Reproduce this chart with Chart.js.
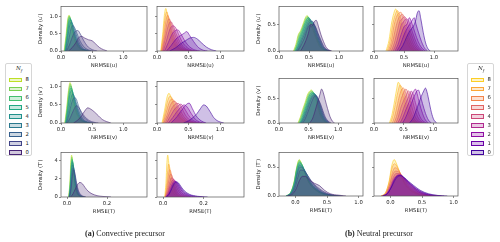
<!DOCTYPE html>
<html><head><meta charset="utf-8">
<script src="https://cdn.jsdelivr.net/npm/chart.js@4/dist/chart.umd.min.js"></script>
<style>
html,body{margin:0;padding:0;background:#fff;}
body{width:500px;height:242px;overflow:hidden;position:relative;font-family:"DejaVu Sans",sans-serif;}
.pn{position:absolute;}
.pn canvas{display:block;}
.lg{position:absolute;border:0.8px solid #d6d6d6;border-radius:2px;background:#fff;box-sizing:border-box;}
.lgt{position:absolute;font-family:"DejaVu Serif",serif;font-style:italic;font-size:5.5px;color:#222;}
.sw{position:absolute;box-sizing:border-box;}
.lbl{position:absolute;font-size:5.3px;color:#222;line-height:1;}
.cap{position:absolute;font-family:"Liberation Serif",serif;font-size:8px;color:#222;white-space:nowrap;transform:translate(-50%,-50%);}
</style>
</head><body>
<script>
// ---------------- data ----------------
const NF = [8,7,6,5,4,3,2,1,0];
// palettes indexed by N_f (0..8)
const VIRIDIS = ['#482475','#414487','#355f8d','#2a788e','#21918c','#22a884','#44bf70','#7ad151','#bddf26'];
const PLASMA  = ['#41049d','#6a00a8','#8f0da4','#b12a90','#cc4778','#e16462','#f2844b','#fca636','#fcce25'];

const X_TICKS_UV = [0, 0.5, 1.0];   const X_LABELS_UV = ['0.0','0.5','1.0'];
const X_TICKS_CT = [0, 0.2];        const X_LABELS_CT = ['0.0','0.2'];
const X_TICKS_NT = [0, 0.5, 1.0];   const X_LABELS_NT = ['0.0','0.5','1.0'];
const Y_TICKS_CUV = [0, 0.5, 1.0];  const Y_LABELS_CUV = ['0.0','0.5','1.0'];
const Y_TICKS_CT = [0, 2, 4];       const Y_LABELS_CT = ['0','2','4'];
const Y_TICKS_N = [0, 0.5];         const Y_LABELS_N = ['0.0','0.5'];

// series order: N_f = 8,7,6,5,4,3,2,1,0 ; points [x, density]
const convU_vir = [
 [[0.05,0],[0.08,0.45],[0.11,0.95],[0.13,1.05],[0.15,0.9],[0.18,0.6],[0.22,0.3],[0.28,0.1],[0.36,0.02],[0.42,0]],
 [[0.055,0],[0.085,0.45],[0.115,0.95],[0.135,1.03],[0.155,0.9],[0.185,0.62],[0.23,0.3],[0.29,0.1],[0.37,0.02],[0.43,0]],
 [[0.06,0],[0.09,0.45],[0.12,0.92],[0.14,1.0],[0.16,0.9],[0.19,0.63],[0.24,0.3],[0.3,0.1],[0.38,0.02],[0.44,0]],
 [[0.065,0],[0.095,0.42],[0.125,0.88],[0.145,0.96],[0.165,0.88],[0.2,0.6],[0.25,0.3],[0.31,0.1],[0.39,0.02],[0.45,0]],
 [[0.07,0],[0.1,0.4],[0.13,0.82],[0.155,0.92],[0.18,0.82],[0.21,0.58],[0.26,0.3],[0.32,0.1],[0.4,0.02],[0.46,0]],
 [[0.075,0],[0.105,0.35],[0.14,0.75],[0.165,0.85],[0.19,0.78],[0.23,0.55],[0.28,0.3],[0.34,0.1],[0.42,0.02],[0.48,0]],
 [[0.08,0],[0.12,0.3],[0.16,0.65],[0.19,0.75],[0.22,0.68],[0.26,0.5],[0.31,0.28],[0.38,0.1],[0.46,0.02],[0.52,0]],
 [[0.09,0],[0.14,0.2],[0.19,0.45],[0.23,0.58],[0.27,0.6],[0.31,0.5],[0.36,0.32],[0.42,0.15],[0.5,0.04],[0.58,0]],
 [[0.12,0],[0.18,0.1],[0.24,0.25],[0.29,0.4],[0.33,0.43],[0.38,0.38],[0.44,0.33],[0.5,0.3],[0.56,0.2],[0.62,0.1],[0.68,0.04],[0.74,0]]
];
const convU_pla = [
 [[0.06,0],[0.09,0.5],[0.12,1.1],[0.14,1.25],[0.16,1.1],[0.2,0.65],[0.25,0.3],[0.32,0.1],[0.4,0.02],[0.46,0]],
 [[0.065,0],[0.1,0.5],[0.13,1.0],[0.155,1.15],[0.18,1.0],[0.22,0.62],[0.27,0.3],[0.34,0.1],[0.42,0.02],[0.48,0]],
 [[0.07,0],[0.11,0.45],[0.145,0.92],[0.17,1.05],[0.2,0.9],[0.24,0.58],[0.3,0.28],[0.37,0.1],[0.45,0.02],[0.52,0]],
 [[0.08,0],[0.12,0.4],[0.16,0.82],[0.19,0.95],[0.22,0.85],[0.27,0.55],[0.33,0.28],[0.4,0.1],[0.48,0.02],[0.55,0]],
 [[0.09,0],[0.13,0.35],[0.18,0.75],[0.22,0.86],[0.25,0.78],[0.3,0.52],[0.36,0.28],[0.43,0.1],[0.52,0.02],[0.6,0]],
 [[0.1,0],[0.15,0.3],[0.2,0.62],[0.25,0.74],[0.29,0.7],[0.34,0.5],[0.4,0.27],[0.48,0.1],[0.56,0.02],[0.64,0]],
 [[0.12,0],[0.18,0.25],[0.24,0.5],[0.29,0.6],[0.33,0.62],[0.38,0.5],[0.44,0.3],[0.52,0.12],[0.6,0.03],[0.68,0]],
 [[0.15,0],[0.22,0.15],[0.3,0.35],[0.37,0.45],[0.43,0.52],[0.47,0.57],[0.52,0.45],[0.58,0.28],[0.66,0.1],[0.74,0.02],[0.8,0]],
 [[0.2,0],[0.3,0.1],[0.38,0.22],[0.45,0.3],[0.52,0.38],[0.58,0.4],[0.64,0.35],[0.7,0.25],[0.78,0.12],[0.86,0.04],[0.94,0]]
];
const convV_vir = [
 [[0.06,0],[0.09,0.4],[0.12,0.9],[0.145,1.12],[0.17,0.95],[0.2,0.6],[0.24,0.3],[0.3,0.1],[0.38,0.02],[0.44,0]],
 [[0.065,0],[0.095,0.4],[0.125,0.9],[0.15,1.08],[0.175,0.93],[0.205,0.6],[0.25,0.3],[0.31,0.1],[0.39,0.02],[0.45,0]],
 [[0.07,0],[0.1,0.4],[0.13,0.85],[0.155,1.03],[0.18,0.92],[0.21,0.6],[0.26,0.3],[0.32,0.1],[0.4,0.02],[0.46,0]],
 [[0.075,0],[0.105,0.38],[0.135,0.8],[0.16,0.97],[0.185,0.88],[0.22,0.6],[0.27,0.3],[0.33,0.1],[0.41,0.02],[0.47,0]],
 [[0.08,0],[0.11,0.35],[0.14,0.75],[0.17,0.9],[0.195,0.82],[0.23,0.58],[0.28,0.3],[0.34,0.1],[0.42,0.02],[0.48,0]],
 [[0.085,0],[0.12,0.3],[0.155,0.65],[0.185,0.8],[0.21,0.75],[0.25,0.52],[0.3,0.28],[0.36,0.1],[0.44,0.02],[0.5,0]],
 [[0.09,0],[0.13,0.25],[0.17,0.55],[0.21,0.7],[0.24,0.68],[0.28,0.48],[0.33,0.26],[0.4,0.1],[0.48,0.02],[0.55,0]],
 [[0.1,0],[0.15,0.15],[0.2,0.35],[0.25,0.48],[0.29,0.42],[0.33,0.3],[0.38,0.18],[0.45,0.07],[0.53,0.02],[0.6,0]],
 [[0.2,0],[0.27,0.08],[0.33,0.2],[0.38,0.33],[0.43,0.42],[0.48,0.38],[0.54,0.3],[0.6,0.2],[0.66,0.1],[0.73,0.04],[0.8,0]]
];
const convV_pla = [
 [[0.08,0],[0.12,0.35],[0.16,0.72],[0.19,0.82],[0.22,0.72],[0.27,0.45],[0.33,0.22],[0.4,0.08],[0.48,0.02],[0.55,0]],
 [[0.09,0],[0.13,0.3],[0.17,0.62],[0.21,0.74],[0.24,0.68],[0.29,0.45],[0.35,0.22],[0.42,0.08],[0.5,0.02],[0.57,0]],
 [[0.1,0],[0.14,0.25],[0.19,0.55],[0.23,0.66],[0.27,0.62],[0.32,0.44],[0.38,0.22],[0.45,0.08],[0.53,0.02],[0.6,0]],
 [[0.11,0],[0.16,0.22],[0.21,0.48],[0.26,0.6],[0.3,0.58],[0.35,0.42],[0.41,0.22],[0.48,0.08],[0.56,0.02],[0.63,0]],
 [[0.13,0],[0.18,0.2],[0.24,0.42],[0.29,0.52],[0.34,0.54],[0.39,0.42],[0.45,0.22],[0.52,0.08],[0.6,0.02],[0.67,0]],
 [[0.15,0],[0.21,0.18],[0.27,0.36],[0.33,0.47],[0.38,0.52],[0.43,0.42],[0.49,0.24],[0.56,0.09],[0.64,0.02],[0.71,0]],
 [[0.18,0],[0.25,0.15],[0.31,0.3],[0.37,0.42],[0.43,0.5],[0.48,0.44],[0.54,0.27],[0.61,0.1],[0.69,0.02],[0.76,0]],
 [[0.22,0],[0.29,0.12],[0.35,0.25],[0.41,0.4],[0.47,0.52],[0.51,0.55],[0.56,0.4],[0.62,0.2],[0.7,0.06],[0.78,0]],
 [[0.42,0],[0.5,0.06],[0.57,0.15],[0.63,0.25],[0.69,0.4],[0.74,0.5],[0.78,0.47],[0.84,0.32],[0.9,0.15],[0.97,0.05],[1.06,0]]
];
const convT_vir = [
 [[0.008,0],[0.014,1.5],[0.019,3.8],[0.023,4.6],[0.027,4.0],[0.033,2.5],[0.04,1.2],[0.05,0.4],[0.062,0.1],[0.075,0]],
 [[0.009,0],[0.015,1.4],[0.02,3.6],[0.024,4.4],[0.028,3.9],[0.034,2.5],[0.041,1.2],[0.051,0.4],[0.063,0.1],[0.076,0]],
 [[0.01,0],[0.016,1.3],[0.021,3.4],[0.025,4.2],[0.029,3.8],[0.035,2.5],[0.042,1.2],[0.052,0.4],[0.064,0.1],[0.078,0]],
 [[0.01,0],[0.016,1.2],[0.021,3.1],[0.026,4.0],[0.03,3.7],[0.036,2.5],[0.043,1.3],[0.053,0.45],[0.066,0.1],[0.08,0]],
 [[0.011,0],[0.017,1.1],[0.022,2.9],[0.027,3.8],[0.031,3.6],[0.037,2.5],[0.044,1.3],[0.054,0.45],[0.067,0.1],[0.082,0]],
 [[0.012,0],[0.018,1.0],[0.023,2.6],[0.028,3.5],[0.032,3.4],[0.038,2.5],[0.045,1.35],[0.056,0.5],[0.07,0.12],[0.086,0]],
 [[0.012,0],[0.019,0.9],[0.025,2.4],[0.03,3.2],[0.034,3.1],[0.04,2.4],[0.048,1.3],[0.058,0.5],[0.072,0.12],[0.09,0]],
 [[0.013,0],[0.02,0.8],[0.026,2.1],[0.032,2.95],[0.036,2.9],[0.042,2.3],[0.05,1.3],[0.06,0.55],[0.075,0.15],[0.095,0]],
 [[0.018,0],[0.03,0.35],[0.042,0.9],[0.055,1.45],[0.065,1.6],[0.077,1.45],[0.09,1.05],[0.105,0.65],[0.125,0.35],[0.15,0.15],[0.18,0.06],[0.22,0]]
];
const convT_pla = [
 [[0.008,0],[0.014,1.5],[0.019,3.8],[0.023,4.6],[0.027,4.0],[0.033,2.5],[0.04,1.3],[0.05,0.5],[0.065,0.12],[0.08,0]],
 [[0.01,0],[0.017,1.2],[0.023,2.9],[0.028,3.6],[0.033,3.2],[0.04,2.2],[0.048,1.2],[0.06,0.45],[0.075,0.12],[0.09,0]],
 [[0.011,0],[0.019,1.0],[0.026,2.3],[0.032,3.0],[0.038,2.8],[0.045,2.0],[0.054,1.15],[0.066,0.45],[0.082,0.12],[0.1,0]],
 [[0.012,0],[0.021,0.8],[0.029,1.9],[0.036,2.5],[0.043,2.4],[0.05,1.9],[0.06,1.1],[0.072,0.5],[0.09,0.14],[0.11,0]],
 [[0.013,0],[0.023,0.6],[0.032,1.5],[0.041,2.1],[0.049,2.05],[0.057,1.7],[0.067,1.1],[0.08,0.55],[0.1,0.16],[0.125,0]],
 [[0.014,0],[0.025,0.5],[0.035,1.25],[0.045,1.8],[0.054,1.9],[0.063,1.6],[0.074,1.1],[0.088,0.55],[0.11,0.18],[0.14,0]],
 [[0.015,0],[0.027,0.4],[0.038,1.05],[0.049,1.6],[0.058,1.75],[0.068,1.55],[0.08,1.1],[0.095,0.6],[0.12,0.2],[0.16,0]],
 [[0.016,0],[0.029,0.35],[0.041,0.95],[0.052,1.5],[0.062,1.7],[0.072,1.55],[0.085,1.1],[0.1,0.65],[0.125,0.25],[0.17,0.05],[0.2,0]],
 [[0.017,0],[0.03,0.3],[0.043,0.9],[0.055,1.45],[0.066,1.65],[0.076,1.55],[0.09,1.1],[0.105,0.68],[0.13,0.3],[0.17,0.08],[0.22,0]]
];
const neutU_vir = [
 [[0.24,0],[0.28,0.12],[0.32,0.3],[0.36,0.38],[0.4,0.5],[0.44,0.62],[0.47,0.66],[0.5,0.55],[0.54,0.5],[0.58,0.35],[0.63,0.2],[0.68,0.08],[0.74,0.02],[0.8,0]],
 [[0.25,0],[0.29,0.12],[0.33,0.3],[0.37,0.38],[0.41,0.5],[0.45,0.62],[0.48,0.64],[0.51,0.55],[0.55,0.5],[0.59,0.35],[0.64,0.2],[0.69,0.08],[0.75,0.02],[0.81,0]],
 [[0.26,0],[0.3,0.12],[0.34,0.28],[0.38,0.38],[0.42,0.5],[0.46,0.6],[0.49,0.63],[0.52,0.55],[0.56,0.5],[0.6,0.35],[0.65,0.2],[0.7,0.08],[0.76,0.02],[0.82,0]],
 [[0.27,0],[0.31,0.12],[0.35,0.27],[0.39,0.37],[0.43,0.5],[0.47,0.6],[0.5,0.62],[0.53,0.55],[0.57,0.5],[0.61,0.35],[0.66,0.2],[0.71,0.08],[0.77,0.02],[0.83,0]],
 [[0.28,0],[0.32,0.1],[0.36,0.25],[0.4,0.36],[0.44,0.48],[0.48,0.58],[0.51,0.6],[0.54,0.55],[0.58,0.48],[0.62,0.35],[0.67,0.2],[0.72,0.08],[0.78,0.02],[0.84,0]],
 [[0.29,0],[0.33,0.1],[0.37,0.22],[0.41,0.33],[0.45,0.45],[0.49,0.55],[0.52,0.58],[0.55,0.55],[0.59,0.48],[0.63,0.35],[0.68,0.2],[0.73,0.08],[0.79,0.02],[0.85,0]],
 [[0.3,0],[0.34,0.08],[0.38,0.2],[0.42,0.3],[0.46,0.42],[0.5,0.52],[0.53,0.55],[0.56,0.55],[0.6,0.46],[0.64,0.35],[0.69,0.2],[0.74,0.08],[0.8,0.02],[0.86,0]],
 [[0.31,0],[0.35,0.07],[0.39,0.16],[0.43,0.26],[0.47,0.4],[0.51,0.48],[0.54,0.45],[0.57,0.5],[0.61,0.45],[0.65,0.33],[0.7,0.2],[0.75,0.08],[0.81,0.02],[0.87,0]],
 [[0.36,0],[0.41,0.1],[0.45,0.2],[0.49,0.33],[0.53,0.5],[0.56,0.48],[0.59,0.55],[0.62,0.57],[0.66,0.45],[0.7,0.3],[0.74,0.18],[0.78,0.08],[0.83,0.02],[0.88,0]]
];
const neutU_pla = [
 [[0.2,0],[0.25,0.2],[0.29,0.5],[0.33,0.7],[0.36,0.78],[0.39,0.72],[0.43,0.55],[0.47,0.4],[0.52,0.25],[0.57,0.12],[0.62,0.04],[0.67,0]],
 [[0.22,0],[0.27,0.2],[0.31,0.48],[0.35,0.66],[0.39,0.75],[0.42,0.7],[0.46,0.55],[0.5,0.4],[0.55,0.25],[0.6,0.12],[0.65,0.04],[0.7,0]],
 [[0.24,0],[0.29,0.18],[0.33,0.45],[0.37,0.62],[0.41,0.7],[0.45,0.72],[0.49,0.55],[0.53,0.4],[0.58,0.25],[0.63,0.12],[0.68,0.04],[0.73,0]],
 [[0.26,0],[0.31,0.16],[0.36,0.42],[0.4,0.58],[0.44,0.66],[0.48,0.68],[0.52,0.55],[0.56,0.42],[0.61,0.26],[0.66,0.12],[0.71,0.04],[0.76,0]],
 [[0.29,0],[0.34,0.15],[0.39,0.38],[0.43,0.55],[0.47,0.6],[0.51,0.64],[0.55,0.55],[0.59,0.42],[0.64,0.26],[0.69,0.12],[0.74,0.04],[0.79,0]],
 [[0.32,0],[0.37,0.14],[0.42,0.35],[0.46,0.5],[0.5,0.55],[0.54,0.6],[0.58,0.55],[0.62,0.42],[0.67,0.26],[0.72,0.12],[0.77,0.04],[0.82,0]],
 [[0.35,0],[0.4,0.12],[0.45,0.3],[0.5,0.45],[0.55,0.5],[0.59,0.62],[0.62,0.55],[0.66,0.42],[0.71,0.25],[0.76,0.12],[0.81,0.04],[0.86,0]],
 [[0.38,0],[0.44,0.12],[0.5,0.3],[0.55,0.42],[0.6,0.5],[0.64,0.58],[0.67,0.62],[0.7,0.5],[0.74,0.35],[0.79,0.18],[0.84,0.06],[0.89,0]],
 [[0.42,0],[0.48,0.1],[0.54,0.25],[0.6,0.38],[0.65,0.45],[0.69,0.55],[0.72,0.7],[0.75,0.75],[0.78,0.6],[0.82,0.35],[0.86,0.15],[0.9,0.04],[0.94,0]]
];
const neutV_vir = [
 [[0.32,0],[0.36,0.12],[0.4,0.28],[0.44,0.42],[0.48,0.58],[0.52,0.66],[0.55,0.68],[0.58,0.6],[0.62,0.48],[0.66,0.3],[0.7,0.15],[0.75,0.05],[0.8,0]],
 [[0.33,0],[0.37,0.12],[0.41,0.28],[0.45,0.42],[0.49,0.57],[0.53,0.65],[0.56,0.66],[0.59,0.6],[0.63,0.48],[0.67,0.3],[0.71,0.15],[0.76,0.05],[0.81,0]],
 [[0.34,0],[0.38,0.12],[0.42,0.27],[0.46,0.42],[0.5,0.56],[0.54,0.63],[0.57,0.64],[0.6,0.6],[0.64,0.48],[0.68,0.3],[0.72,0.15],[0.77,0.05],[0.82,0]],
 [[0.35,0],[0.39,0.11],[0.43,0.26],[0.47,0.4],[0.51,0.55],[0.55,0.62],[0.58,0.62],[0.61,0.58],[0.65,0.47],[0.69,0.3],[0.73,0.15],[0.78,0.05],[0.83,0]],
 [[0.36,0],[0.4,0.1],[0.44,0.25],[0.48,0.39],[0.52,0.53],[0.56,0.6],[0.59,0.61],[0.62,0.57],[0.66,0.46],[0.7,0.3],[0.74,0.15],[0.79,0.05],[0.84,0]],
 [[0.37,0],[0.41,0.1],[0.45,0.23],[0.49,0.37],[0.53,0.5],[0.57,0.58],[0.6,0.6],[0.63,0.56],[0.67,0.45],[0.71,0.3],[0.75,0.15],[0.8,0.05],[0.85,0]],
 [[0.38,0],[0.42,0.09],[0.46,0.21],[0.5,0.35],[0.54,0.48],[0.58,0.56],[0.61,0.58],[0.64,0.55],[0.68,0.44],[0.72,0.3],[0.76,0.15],[0.81,0.05],[0.86,0]],
 [[0.4,0],[0.44,0.08],[0.48,0.2],[0.52,0.33],[0.56,0.46],[0.6,0.55],[0.63,0.56],[0.66,0.5],[0.7,0.4],[0.74,0.26],[0.78,0.13],[0.83,0.04],[0.88,0]],
 [[0.52,0],[0.57,0.1],[0.61,0.25],[0.65,0.42],[0.69,0.58],[0.72,0.7],[0.75,0.62],[0.78,0.48],[0.82,0.3],[0.86,0.14],[0.9,0.04],[0.94,0]]
];
const neutV_pla = [
 [[0.26,0],[0.3,0.15],[0.34,0.4],[0.38,0.68],[0.41,0.84],[0.44,0.78],[0.48,0.6],[0.52,0.42],[0.56,0.25],[0.61,0.1],[0.66,0.03],[0.71,0]],
 [[0.28,0],[0.32,0.15],[0.36,0.38],[0.4,0.62],[0.44,0.78],[0.47,0.74],[0.51,0.6],[0.55,0.42],[0.59,0.25],[0.64,0.1],[0.69,0.03],[0.74,0]],
 [[0.31,0],[0.35,0.14],[0.39,0.35],[0.43,0.56],[0.47,0.7],[0.5,0.72],[0.54,0.6],[0.58,0.42],[0.62,0.25],[0.67,0.1],[0.72,0.03],[0.77,0]],
 [[0.34,0],[0.38,0.13],[0.42,0.32],[0.46,0.5],[0.5,0.62],[0.54,0.7],[0.58,0.6],[0.62,0.42],[0.66,0.25],[0.71,0.1],[0.76,0.03],[0.81,0]],
 [[0.37,0],[0.41,0.12],[0.45,0.3],[0.5,0.46],[0.54,0.56],[0.58,0.66],[0.62,0.6],[0.66,0.42],[0.7,0.25],[0.75,0.1],[0.8,0.03],[0.85,0]],
 [[0.4,0],[0.45,0.12],[0.5,0.3],[0.55,0.45],[0.59,0.55],[0.63,0.66],[0.66,0.6],[0.7,0.42],[0.74,0.25],[0.79,0.1],[0.84,0.03],[0.89,0]],
 [[0.44,0],[0.49,0.12],[0.54,0.28],[0.59,0.42],[0.63,0.55],[0.67,0.65],[0.7,0.7],[0.73,0.6],[0.77,0.4],[0.82,0.2],[0.87,0.06],[0.92,0]],
 [[0.48,0],[0.53,0.1],[0.58,0.25],[0.63,0.4],[0.68,0.55],[0.72,0.65],[0.75,0.68],[0.78,0.58],[0.82,0.4],[0.87,0.2],[0.92,0.06],[0.97,0]],
 [[0.6,0],[0.66,0.1],[0.71,0.25],[0.76,0.42],[0.8,0.55],[0.84,0.66],[0.87,0.72],[0.9,0.62],[0.93,0.45],[0.97,0.22],[1.01,0.07],[1.06,0]]
];
const neutT_vir = [
 [[-0.15,0],[-0.08,0.05],[-0.02,0.25],[0.02,0.5],[0.06,0.63],[0.1,0.55],[0.15,0.4],[0.22,0.22],[0.3,0.12],[0.4,0.05],[0.5,0.02],[0.62,0]],
 [[-0.15,0],[-0.08,0.05],[-0.02,0.24],[0.02,0.48],[0.06,0.62],[0.1,0.55],[0.15,0.4],[0.22,0.22],[0.3,0.12],[0.4,0.05],[0.5,0.02],[0.62,0]],
 [[-0.15,0],[-0.08,0.05],[-0.02,0.23],[0.02,0.47],[0.065,0.6],[0.1,0.55],[0.15,0.41],[0.22,0.23],[0.3,0.13],[0.4,0.05],[0.5,0.02],[0.64,0]],
 [[-0.15,0],[-0.08,0.05],[-0.02,0.22],[0.02,0.45],[0.065,0.58],[0.11,0.53],[0.16,0.4],[0.23,0.23],[0.31,0.13],[0.41,0.06],[0.52,0.02],[0.66,0]],
 [[-0.14,0],[-0.07,0.05],[-0.01,0.22],[0.03,0.44],[0.07,0.56],[0.11,0.52],[0.16,0.4],[0.23,0.24],[0.31,0.14],[0.41,0.06],[0.52,0.02],[0.68,0]],
 [[-0.14,0],[-0.07,0.05],[-0.01,0.2],[0.03,0.42],[0.07,0.53],[0.11,0.5],[0.17,0.4],[0.24,0.24],[0.32,0.14],[0.42,0.06],[0.54,0.02],[0.7,0]],
 [[-0.14,0],[-0.07,0.04],[-0.01,0.18],[0.03,0.38],[0.075,0.5],[0.12,0.48],[0.18,0.38],[0.25,0.25],[0.33,0.15],[0.43,0.07],[0.55,0.02],[0.72,0]],
 [[-0.13,0],[-0.06,0.04],[0,0.16],[0.04,0.33],[0.08,0.45],[0.13,0.44],[0.19,0.36],[0.26,0.25],[0.34,0.16],[0.44,0.08],[0.56,0.02],[0.75,0]],
 [[-0.12,0],[-0.05,0.03],[0.01,0.12],[0.06,0.26],[0.11,0.34],[0.16,0.34],[0.22,0.28],[0.3,0.22],[0.38,0.18],[0.46,0.1],[0.55,0.04],[0.68,0.015],[0.8,0]]
];
const neutT_pla = [
 [[-0.15,0],[-0.08,0.05],[-0.02,0.26],[0.02,0.52],[0.06,0.63],[0.1,0.55],[0.15,0.4],[0.22,0.22],[0.3,0.11],[0.4,0.04],[0.5,0.01],[0.62,0]],
 [[-0.15,0],[-0.08,0.05],[-0.02,0.24],[0.02,0.46],[0.065,0.56],[0.11,0.5],[0.16,0.38],[0.23,0.22],[0.31,0.12],[0.41,0.05],[0.52,0.01],[0.64,0]],
 [[-0.14,0],[-0.07,0.05],[-0.01,0.22],[0.03,0.4],[0.07,0.49],[0.12,0.46],[0.17,0.37],[0.24,0.23],[0.32,0.13],[0.42,0.05],[0.54,0.015],[0.68,0]],
 [[-0.14,0],[-0.07,0.04],[-0.01,0.2],[0.03,0.35],[0.08,0.43],[0.13,0.42],[0.18,0.35],[0.25,0.24],[0.33,0.14],[0.43,0.06],[0.55,0.02],[0.7,0]],
 [[-0.13,0],[-0.06,0.04],[0,0.18],[0.04,0.31],[0.09,0.39],[0.14,0.39],[0.19,0.34],[0.26,0.24],[0.34,0.15],[0.44,0.07],[0.56,0.02],[0.72,0]],
 [[-0.13,0],[-0.06,0.04],[0,0.16],[0.05,0.29],[0.1,0.36],[0.15,0.37],[0.2,0.33],[0.27,0.24],[0.35,0.16],[0.45,0.07],[0.58,0.02],[0.76,0]],
 [[-0.12,0],[-0.05,0.04],[0.01,0.15],[0.06,0.28],[0.11,0.35],[0.16,0.36],[0.21,0.32],[0.28,0.24],[0.36,0.16],[0.46,0.08],[0.6,0.02],[0.8,0]],
 [[-0.12,0],[-0.05,0.04],[0.01,0.15],[0.06,0.28],[0.11,0.35],[0.16,0.36],[0.21,0.32],[0.28,0.25],[0.36,0.17],[0.46,0.09],[0.6,0.03],[0.85,0]],
 [[-0.12,0],[-0.05,0.04],[0.01,0.14],[0.07,0.27],[0.12,0.34],[0.17,0.35],[0.22,0.32],[0.29,0.25],[0.37,0.18],[0.47,0.1],[0.6,0.04],[0.75,0.01],[0.9,0]]
];

// ---------------- rendering ----------------
const FONT = 'DejaVu Sans';
const FS = 5.3;
function rgba(hex, a){const n=parseInt(hex.slice(1),16);return 'rgba('+(n>>16)+','+((n>>8)&255)+','+(n&255)+','+a+')';}
const framePlugin = {id:'frame', afterDatasetsDraw(c){const a=c.chartArea,ctx=c.ctx;ctx.save();ctx.strokeStyle='#555';ctx.lineWidth=0.7;ctx.strokeRect(a.left,a.top,a.right-a.left,a.bottom-a.top);ctx.restore();}};

function panel(rect, series, pal, xlim, ylim, xt, xtl, yt, ytl, xTitle, yTitle){
  const showY = !!yTitle;
  const L = showY ? 24 : 9, T = 3, R = 4, B = 18;
  const W = L + rect[2] + R, H = T + rect[3] + B;
  const div = document.createElement('div'); div.className = 'pn';
  div.style.left = (rect[0]-L)+'px'; div.style.top = (rect[1]-T)+'px';
  div.style.width = W+'px'; div.style.height = H+'px';
  const cv = document.createElement('canvas'); cv.width = W; cv.height = H;
  cv.style.width = W+'px'; cv.style.height = H+'px';
  div.appendChild(cv); document.body.appendChild(div);
  const tickFont = {family:FONT, size:FS};
  new Chart(cv, {
    type:'line',
    data:{datasets: series.map((pts,i)=>({
      label:String(NF[i]),
      data: pts.map(p=>({x:p[0], y:p[1]})),
      order: NF[i],
      borderColor: pal[NF[i]],
      backgroundColor: rgba(pal[NF[i]], 0.25),
      fill:'origin', borderWidth:0.6, pointRadius:0,
      cubicInterpolationMode:'monotone'
    }))},
    options:{
      responsive:false, animation:false, devicePixelRatio:1,
      layout:{padding:{left:0, top:T, right:R, bottom:0}},
      plugins:{legend:{display:false}, tooltip:{enabled:false}},
      scales:{
        x:{type:'linear', min:xlim[0], max:xlim[1],
           afterBuildTicks:s=>{s.ticks = xt.map(v=>({value:v}));},
           afterFit:s=>{s.height = B;},
           ticks:{callback:(v,i)=>xtl[i], font:tickFont, color:'#222', padding:1.2, maxRotation:0, autoSkip:false},
           grid:{drawOnChartArea:false, drawTicks:true, tickLength:2, color:'#444', lineWidth:0.6},
           border:{display:false},
           title:{display:true, text:xTitle, font:tickFont, color:'#222', padding:0}},
        y:{type:'linear', min:ylim[0], max:ylim[1],
           afterBuildTicks:s=>{s.ticks = yt.map(v=>({value:v}));},
           afterFit:s=>{s.width = L;},
           ticks:{callback:(v,i)=>showY ? ytl[i] : '', font:tickFont, color:'#222', padding:1.2, autoSkip:false},
           grid:{drawOnChartArea:false, drawTicks:true, tickLength:2, color:'#444', lineWidth:0.6},
           border:{display:false},
           title:{display:showY, text:yTitle||'', font:tickFont, color:'#222', padding:0}}
      }
    },
    plugins:[framePlugin]
  });
}

// Convective precursor
panel([61,5,86,46],  convU_vir, VIRIDIS, [0,1.38], [0,1.31], X_TICKS_UV, X_LABELS_UV, Y_TICKS_CUV, Y_LABELS_CUV, 'NRMSE(u)', 'Density (u′)');
panel([157,5,87,46], convU_pla, PLASMA,  [0,1.38], [0,1.31], X_TICKS_UV, X_LABELS_UV, Y_TICKS_CUV, Y_LABELS_CUV, 'NRMSE(u)', null);
panel([61,80,86,43],  convV_vir, VIRIDIS, [0,1.38], [0,1.15], X_TICKS_UV, X_LABELS_UV, Y_TICKS_CUV, Y_LABELS_CUV, 'NRMSE(v)', 'Density (v′)');
panel([157,80,87,43], convV_pla, PLASMA,  [0,1.38], [0,1.15], X_TICKS_UV, X_LABELS_UV, Y_TICKS_CUV, Y_LABELS_CUV, 'NRMSE(v)', null);
panel([61,151,86,46],  convT_vir, VIRIDIS, [-0.03,0.40], [0,4.9], X_TICKS_CT, X_LABELS_CT, Y_TICKS_CT, Y_LABELS_CT, 'RMSE(T)', 'Density (T′)');
panel([157,151,87,46], convT_pla, PLASMA,  [-0.03,0.40], [0,4.9], X_TICKS_CT, X_LABELS_CT, Y_TICKS_CT, Y_LABELS_CT, 'RMSE(T)', null);
// Neutral precursor
panel([279,5,84,46],  neutU_vir, VIRIDIS, [0,1.40], [0,0.83], X_TICKS_UV, X_LABELS_UV, Y_TICKS_N, Y_LABELS_N, 'NRMSE(u)', 'Density (u′)');
panel([374,5,84,46],  neutU_pla, PLASMA,  [0,1.40], [0,0.83], X_TICKS_UV, X_LABELS_UV, Y_TICKS_N, Y_LABELS_N, 'NRMSE(u)', null);
panel([279,77,84,46], neutV_vir, VIRIDIS, [0,1.42], [0,0.92], X_TICKS_UV, X_LABELS_UV, Y_TICKS_N, Y_LABELS_N, 'NRMSE(v)', 'Density (v′)');
panel([374,77,84,46], neutV_pla, PLASMA,  [0,1.42], [0,0.92], X_TICKS_UV, X_LABELS_UV, Y_TICKS_N, Y_LABELS_N, 'NRMSE(v)', null);
panel([279,151,84,45], neutT_vir, VIRIDIS, [-0.26,1.07], [0,0.755], X_TICKS_NT, X_LABELS_NT, Y_TICKS_N, Y_LABELS_N, 'RMSE(T)', 'Density (T′)');
panel([374,151,84,45], neutT_pla, PLASMA,  [-0.26,1.07], [0,0.755], X_TICKS_NT, X_LABELS_NT, Y_TICKS_N, Y_LABELS_N, 'RMSE(T)', null);

// legends
function legend(left, pal){
  const box = document.createElement('div'); box.className='lg';
  box.style.left=left+'px'; box.style.top='63px'; box.style.width='27px'; box.style.height='93px';
  document.body.appendChild(box);
  const t = document.createElement('div'); t.className='lgt';
  t.innerHTML = 'N<sub style="font-size:3.8px">f</sub>';
  t.style.left='10px'; t.style.top='1px';
  box.appendChild(t);
  NF.forEach((n,i)=>{
    const cy = 16 + i*9.1;
    const s = document.createElement('div'); s.className='sw';
    s.style.left='2.5px'; s.style.top=(cy-2.4)+'px'; s.style.width='13px'; s.style.height='4.8px';
    s.style.background = rgba(pal[n],0.25); s.style.border='0.8px solid '+pal[n];
    box.appendChild(s);
    const l = document.createElement('div'); l.className='lbl'; l.textContent=String(n);
    l.style.left='19.5px'; l.style.top=(cy-2.8)+'px';
    box.appendChild(l);
  });
}
legend(5, VIRIDIS);
legend(467, PLASMA);

// captions
function caption(cx, tag, text){
  const d = document.createElement('div'); d.className='cap';
  d.style.left=cx+'px'; d.style.top='233px';
  d.innerHTML = '<b>'+tag+'</b> '+text;
  document.body.appendChild(d);
}
caption(125, '(a)', 'Convective precursor');
caption(379, '(b)', 'Neutral precursor');
</script>
</body></html>
